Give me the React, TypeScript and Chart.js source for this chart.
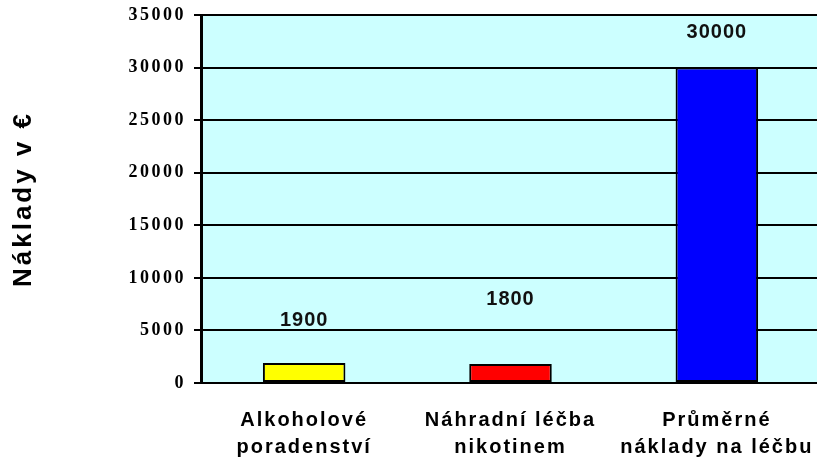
import { useEffect, useRef } from 'react';
import { Chart, registerables } from 'chart.js';

Chart.register(...registerables);

const categories: string[][] = [
  ['Alkoholové', 'poradenství'],
  ['Náhradní léčba', 'nikotinem'],
  ['Průměrné', 'náklady na léčbu'],
];
const values: number[] = [1900, 1800, 30000];
const valueLabels: string[] = ['1900', '1800', '30000'];
const barColors: string[] = ['#FFFF00', '#FF0000', '#0000FF'];
const yMin = 0;
const yMax = 35000;
const yStep = 5000;
const yTitle = 'Náklady v €';

// label lift above bar top (style), px
const labelLift: number[] = [43, 65, 35];

const bgPlugin = {
  id: 'plotBg',
  beforeDraw(chart: any) {
    const { ctx, chartArea: a } = chart;
    ctx.save();
    ctx.fillStyle = '#CCFFFF';
    ctx.fillRect(a.left, a.top, a.right - a.left, a.bottom - a.top);
    ctx.restore();
  },
};

const spacingPlugin = {
  id: 'letterSpacing',
  beforeDraw(chart: any) {
    const conf: [string, string, string][] = [
      ['x', '2px', '0px'],
      ['y', '2.5px', '3px'],
    ];
    for (const [id, sp, tsp] of conf) {
      const s: any = chart.scales[id];
      if (!s || s.__wrapped) continue;
      const dl = s.drawLabels.bind(s);
      s.drawLabels = (ca: any) => {
        const c = chart.ctx;
        c.save();
        c.letterSpacing = sp;
        dl(ca);
        c.restore();
      };
      const dt = s.drawTitle.bind(s);
      s.drawTitle = (ca: any) => {
        const c = chart.ctx;
        c.save();
        c.letterSpacing = tsp;
        dt(ca);
        c.restore();
      };
      s.__wrapped = true;
    }
  },
};

const valueLabelPlugin = {
  id: 'valueLabels',
  afterDatasetsDraw(chart: any) {
    const { ctx } = chart;
    const meta = chart.getDatasetMeta(0);
    ctx.save();
    ctx.font = 'bold 20px "Liberation Sans", Arial, sans-serif';
    ctx.letterSpacing = '1px';
    ctx.fillStyle = '#111111';
    ctx.textAlign = 'center';
    ctx.textBaseline = 'middle';
    meta.data.forEach((bar: any, i: number) => {
      ctx.fillText(valueLabels[i], bar.x, bar.y - labelLift[i]);
    });
    ctx.restore();
  },
};

export default function App() {
  const ref = useRef<HTMLCanvasElement | null>(null);

  useEffect(() => {
    if (!ref.current) return;
    document.body.style.overflow = 'hidden';
    const chart = new Chart(ref.current, {
      type: 'bar',
      data: {
        labels: categories,
        datasets: [
          {
            data: values,
            backgroundColor: barColors,
            borderColor: '#000000',
            borderWidth: 2,
            borderSkipped: false,
            barPercentage: 0.4,
            categoryPercentage: 1,
          },
        ],
      },
      options: {
        responsive: false,
        animation: false,
        devicePixelRatio: 1,
        layout: { padding: { top: 15, left: 0, right: 0, bottom: 0 } },
        plugins: {
          legend: { display: false },
          tooltip: { enabled: false },
        },
        scales: {
          x: {
            ticks: {
              color: '#000000',
              font: { family: '"Liberation Sans", Arial, sans-serif', weight: 'bold', size: 20, lineHeight: 1.35 },
              padding: 24,
              maxRotation: 0,
              autoSkip: false,
            },
            grid: { display: false, drawTicks: false },
            border: { color: '#000000', width: 2 },
            afterFit(s: any) {
              s.height = 82;
              s.paddingLeft = 0;
              s.paddingRight = 0;
            },
          },
          y: {
            min: yMin,
            max: yMax,
            ticks: {
              stepSize: yStep,
              color: '#000000',
              font: { family: '"Liberation Serif", "Times New Roman", serif', weight: 'bold', size: 18 },
              padding: 8,
              callback: (v: any) => String(v),
            },
            grid: { color: '#000000', lineWidth: 2, tickLength: 7, drawTicks: true },
            border: { color: '#000000', width: 3 },
            title: {
              display: true,
              text: yTitle,
              color: '#000000',
              font: { family: '"Liberation Sans", Arial, sans-serif', weight: 'bold', size: 26 },
              padding: { top: 8, bottom: 0 },
            },
            afterFit(s: any) {
              s.width = 201;
              s.paddingTop = 0;
              s.paddingBottom = 0;
            },
          },
        },
      } as any,
      plugins: [bgPlugin, spacingPlugin, valueLabelPlugin],
    });
    return () => chart.destroy();
  }, []);

  return (
    <canvas
      ref={ref}
      width={820}
      height={465}
      style={{ position: 'fixed', left: 0, top: 0, width: 820, height: 465 }}
    />
  );
}
